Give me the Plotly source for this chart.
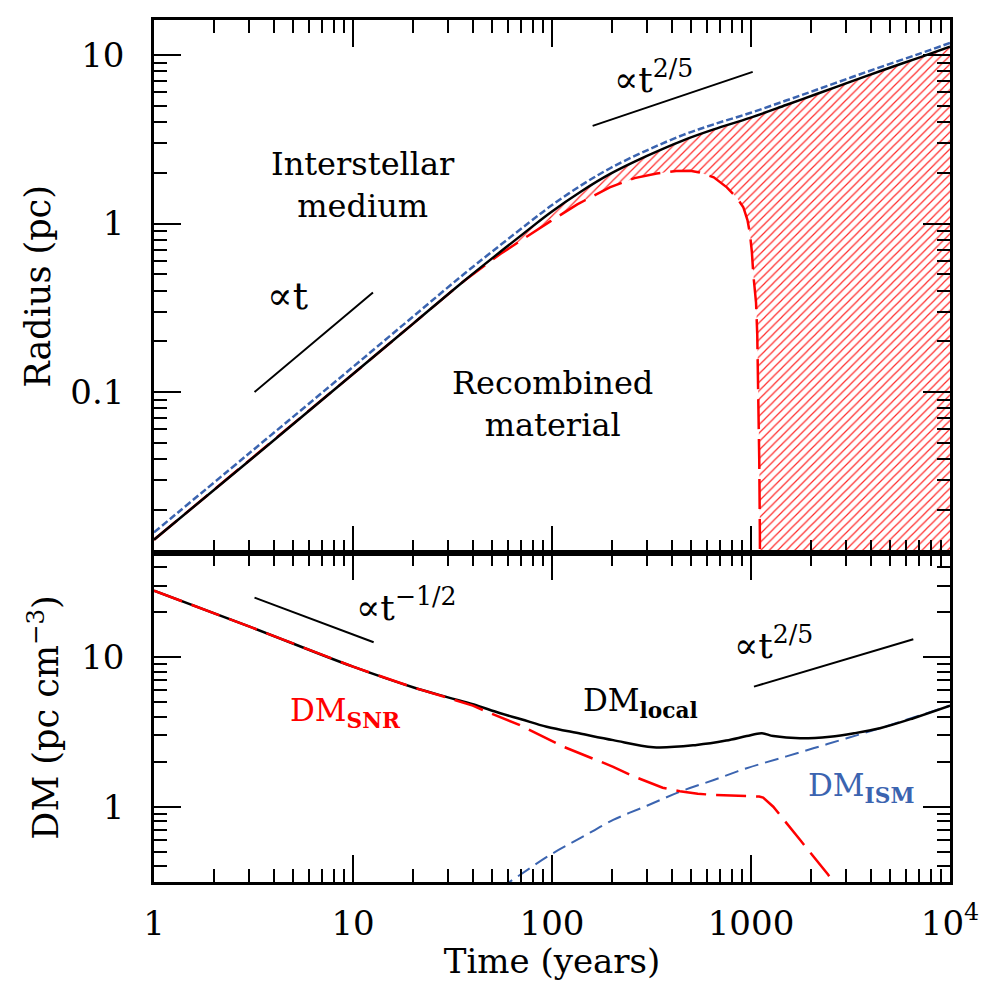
import plotly.graph_objects as go

# ---------------- data ----------------
# Top panel: radius (pc) vs time (years)
t_R = [1, 3, 10, 20, 36, 55, 77, 98, 140, 196, 300, 457, 650, 988, 1500, 2137, 3200, 4624, 7000, 10000]
R_outer = [0.0133, 0.039, 0.128, 0.254, 0.455, 0.68, 0.93, 1.16, 1.55, 1.97, 2.52, 3.12, 3.62, 4.24,
           5.05, 5.87, 6.98, 8.15, 9.66, 11.2]
R_ism = [0.0147, 0.0432, 0.141, 0.28, 0.5, 0.745, 1.017, 1.265, 1.685, 2.13, 2.72, 3.36, 3.88, 4.53,
         5.37, 6.22, 7.38, 8.6, 10.17, 11.8]
t_rec = [1, 3, 10, 20, 36, 55, 77, 98, 134, 195, 260, 336, 420, 495, 552, 650, 756, 850, 915, 960,
         988, 1010, 1027, 1045, 1060, 1075, 1090, 1100, 1108, 1112]
R_rec = [0.0133, 0.039, 0.128, 0.254, 0.455, 0.66, 0.86, 1.03, 1.3, 1.64, 1.86, 1.98, 2.05, 2.06, 2.01,
         1.88, 1.64, 1.42, 1.25, 1.05, 0.87, 0.68, 0.5, 0.42, 0.34, 0.22, 0.09, 0.04, 0.015, 0.005]

# Bottom panel: DM (pc cm^-3) vs time (years)
t_local = [1, 3, 10, 20, 30, 40, 55, 70, 94, 140, 203, 323, 533, 750, 951, 1130, 1294, 1763, 2496,
           3300, 4445, 6550, 10000]
DM_local = [27.9, 16.1, 8.65, 6.3, 5.39, 4.85, 4.22, 3.85, 3.43, 3.08, 2.79, 2.50, 2.59, 2.77, 2.97,
            3.10, 2.97, 2.87, 2.94, 3.1, 3.35, 3.91, 4.74]
t_snr = [1, 3, 10, 20, 30, 40, 49, 69, 114, 160, 203, 250, 298, 360, 439, 540, 646, 900, 1100, 1151,
         1220, 1294, 1763, 2444, 2700]
DM_snr = [27.9, 16.1, 8.65, 6.3, 5.35, 4.75, 4.22, 3.52, 2.52, 2.1, 1.85, 1.62, 1.47, 1.34, 1.27,
          1.22, 1.20, 1.18, 1.17, 1.15, 1.08, 1.0, 0.60, 0.35, 0.29]
t_ism = [45, 61.5, 97.7, 140, 203, 300, 440, 650, 951, 1400, 2056, 3000, 4445, 6500, 10000]
DM_ism = [0.24, 0.315, 0.475, 0.62, 0.815, 1.015, 1.26, 1.51, 1.81, 2.11, 2.46, 2.86, 3.35, 3.94, 4.74]

# power-law guide segments
guide_top1_t, guide_top1_y = [3.2, 12.6], [0.1, 0.39]
guide_top2_t, guide_top2_y = [160, 1020], [3.8, 7.95]
guide_bot1_t, guide_bot1_y = [3.2, 12.7], [25.1, 12.6]
guide_bot2_t, guide_bot2_y = [1035, 6540], [6.36, 13.2]

# ticks
x_ticks = [1, 10, 100, 1000, 10000]
x_ticktext = ["1", "10", "100", "1000", "10<sup>4</sup>"]
yR_ticks = [0.1, 1, 10]
yR_ticktext = ["0.1", "1", "10"]
yDM_ticks = [1, 10]
yDM_ticktext = ["1", "10"]

# axis ranges (log10)
X_RANGE = [0, 4]
YR_RANGE = [-1.955, 1.208]
YDM_RANGE = [-0.504, 1.698]

# ---------------- styling ----------------
FONT = "DejaVu Serif"
RED = "#ff0000"
BLUE = "#3b64b0"


def minor_vals(lo_exp, hi_exp):
    return [m * 10.0 ** k for k in range(lo_exp, hi_exp + 1) for m in range(2, 10)]


# lower bound of hatched region: recombination radius, then the bottom of the panel
R_floor = 10 ** YR_RANGE[0] / 5
t_low = t_rec + [1200, 10000]
R_low = R_rec + [R_floor, R_floor]

fig = go.Figure()

# hatched region (between recombination front and outer radius)
fig.add_trace(go.Scatter(x=t_low, y=R_low, mode="lines", line=dict(width=0),
                         xaxis="x", yaxis="y", showlegend=False, hoverinfo="skip"))
fig.add_trace(go.Scatter(x=t_R, y=R_outer, mode="lines", line=dict(width=0),
                         fill="tonexty", fillcolor="rgba(0,0,0,0)",
                         fillpattern=dict(shape="/", size=6, solidity=0.2, fgcolor="#ff2a2a",
                                          bgcolor="rgba(0,0,0,0)", fillmode="replace"),
                         xaxis="x", yaxis="y", showlegend=False, hoverinfo="skip"))

# top panel lines
fig.add_trace(go.Scatter(x=t_R, y=R_ism, mode="lines", line_shape="spline",
                         line=dict(color=BLUE, width=2.5, dash="7px,3px"),
                         xaxis="x", yaxis="y", showlegend=False))
fig.add_trace(go.Scatter(x=t_rec, y=R_rec, mode="lines",
                         line=dict(color=RED, width=2.5, dash="30px,10px"),
                         xaxis="x", yaxis="y", showlegend=False))
fig.add_trace(go.Scatter(x=t_R, y=R_outer, mode="lines", line_shape="spline",
                         line=dict(color="black", width=2.5),
                         xaxis="x", yaxis="y", showlegend=False))
fig.add_trace(go.Scatter(x=guide_top1_t, y=guide_top1_y, mode="lines",
                         line=dict(color="black", width=2), xaxis="x", yaxis="y", showlegend=False))
fig.add_trace(go.Scatter(x=guide_top2_t, y=guide_top2_y, mode="lines",
                         line=dict(color="black", width=2), xaxis="x", yaxis="y", showlegend=False))

# bottom panel lines
fig.add_trace(go.Scatter(x=t_ism, y=DM_ism, mode="lines", line_shape="spline",
                         line=dict(color=BLUE, width=2, dash="14px,7px"),
                         xaxis="x2", yaxis="y2", showlegend=False))
fig.add_trace(go.Scatter(x=t_local, y=DM_local, mode="lines", line_shape="spline",
                         line=dict(color="black", width=2.5),
                         xaxis="x2", yaxis="y2", showlegend=False))
fig.add_trace(go.Scatter(x=t_snr, y=DM_snr, mode="lines",
                         line=dict(color=RED, width=2.5, dash="30px,10px"),
                         xaxis="x2", yaxis="y2", showlegend=False))
fig.add_trace(go.Scatter(x=guide_bot1_t, y=guide_bot1_y, mode="lines",
                         line=dict(color="black", width=2), xaxis="x2", yaxis="y2", showlegend=False))
fig.add_trace(go.Scatter(x=guide_bot2_t, y=guide_bot2_y, mode="lines",
                         line=dict(color="black", width=2), xaxis="x2", yaxis="y2", showlegend=False))

tickfont = dict(family=FONT, size=34, color="black")
common = dict(type="log", ticks="inside", ticklen=27, tickwidth=2, tickcolor="black",
              showline=True, linewidth=2.5, linecolor="black", mirror="ticks",
              showgrid=False, zeroline=False, tickfont=tickfont, tickmode="array",
              automargin=False)
minor_style = dict(ticks="inside", ticklen=13, tickwidth=2, tickcolor="black",
                   tickmode="array", showgrid=False)

BOT_FRAC = 329 / 862

fig.update_layout(
    width=989, height=981,
    margin=dict(l=154, r=39, t=20, b=99, autoexpand=False),
    paper_bgcolor="white", plot_bgcolor="white",
    font=dict(family=FONT, color="black"),
    xaxis=dict(common, range=X_RANGE, anchor="y", matches="x2", tickvals=x_ticks,
               ticktext=x_ticktext, showticklabels=False,
               minor=dict(minor_style, tickvals=minor_vals(0, 3))),
    xaxis2=dict(common, range=X_RANGE, anchor="y2", tickvals=x_ticks, ticktext=x_ticktext,
                ticklabelstandoff=9,
                title=dict(text="Time (years)", font=dict(family=FONT, size=34), standoff=14),
                minor=dict(minor_style, tickvals=minor_vals(0, 3))),
    yaxis=dict(common, range=YR_RANGE, anchor="x", domain=[BOT_FRAC, 1],
               tickvals=yR_ticks, ticktext=yR_ticktext, ticklabelstandoff=20,
               title=dict(text="Radius (pc)", font=dict(family=FONT, size=35), standoff=10),
               minor=dict(minor_style, tickvals=minor_vals(-2, 1))),
    yaxis2=dict(common, range=YDM_RANGE, anchor="x2", domain=[0, BOT_FRAC],
                tickvals=yDM_ticks, ticktext=yDM_ticktext, ticklabelstandoff=20,
                title=dict(text="DM (pc cm<sup>−3</sup>)", font=dict(family=FONT, size=35), standoff=12),
                minor=dict(minor_style, tickvals=minor_vals(-1, 1))),
)


def note(text, x, y, size=32, color="black"):
    fig.add_annotation(text=text, x=x, y=y, xref="paper", yref="paper", showarrow=False,
                       font=dict(family=FONT, size=size, color=color), xanchor="center",
                       yanchor="middle")


note("Interstellar<br>medium", 0.2626, 0.8086)
note("Recombined<br>material", 0.5006, 0.5545)
note("∝t", 0.168, 0.680, size=38)
note("∝t<sup>2/5</sup>", 0.627, 0.934, size=36)
note("∝t<sup>−1/2</sup>", 0.3166, 0.3213, size=36)
note("∝t<sup>2/5</sup>", 0.7777, 0.2773, size=36)
note("DM<sub><b>SNR</b></sub>", 0.2412, 0.1972, size=31, color=RED)
note("DM<sub><b>local</b></sub>", 0.6118, 0.2077, size=31)
note("DM<sub><b>ISM</b></sub>", 0.8876, 0.1102, size=31, color=BLUE)

fig.write_html("out.html")
